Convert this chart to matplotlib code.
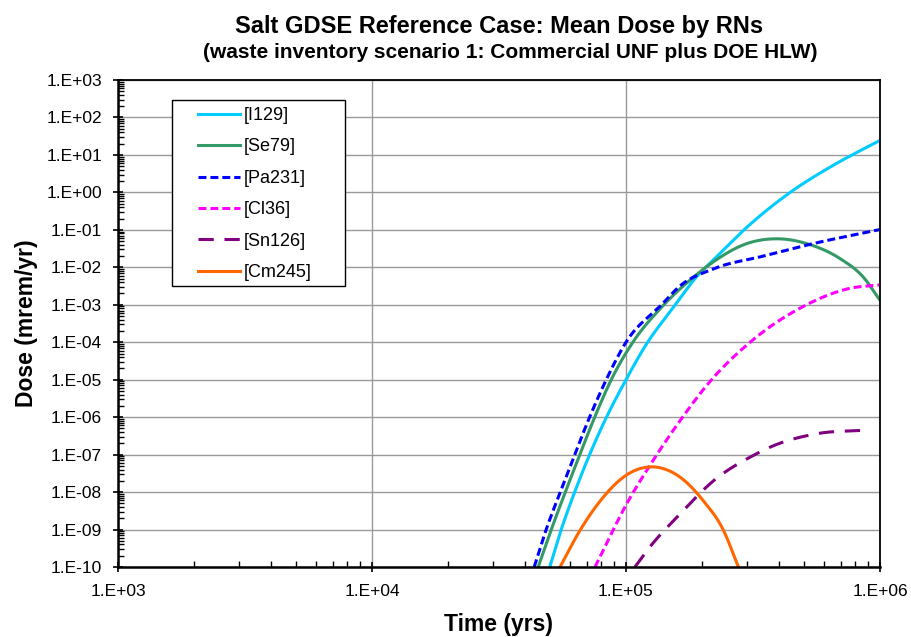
import matplotlib
matplotlib.use("Agg")
import matplotlib.pyplot as plt
import matplotlib.patches as patches
from matplotlib.ticker import FuncFormatter, LogLocator, NullFormatter
import numpy as np

plt.rcParams['font.family'] = ['Liberation Sans', 'DejaVu Sans']

# values (time in yrs, dose in mrem/yr)
i129_t = [5.01e4, 5.56e4, 6.28e4, 7.19e4, 8.24e4, 1.0e5, 1.19e5, 1.535e5, 1.897e5, 2.21e5, 2.99e5, 4.43e5, 6.35e5, 1.0e6]
i129_d = [1e-10, 1e-9, 1e-8, 1e-7, 7.9e-7, 1e-5, 7.9e-5, 8.5e-4, 5.6e-3, 1.58e-2, 0.117, 1.0, 4.7, 24.5]

se79_t = [4.51e4, 5.08e4, 5.77e4, 6.58e4, 7.53e4, 8.75e4, 1.052e5, 1.40e5, 1.84e5, 2.21e5, 2.99e5, 4.04e5, 5.14e5, 6.97e5, 8.59e5, 1.0e6]
se79_d = [1e-10, 1e-9, 1e-8, 1e-7, 1e-6, 1e-5, 8.9e-5, 9.5e-4, 5.4e-3, 1.41e-2, 4.3e-2, 5.75e-2, 4.3e-2, 1.7e-2, 5.5e-3, 1.32e-3]

pa231_t = [4.35e4, 4.85e4, 5.51e4, 6.28e4, 7.19e4, 8.36e4, 1.0e5, 1.38e5, 1.633e5, 2.21e5, 3.48e5, 5.46e5, 1.0e6]
pa231_d = [1e-10, 1e-9, 1e-8, 1e-7, 1e-6, 1e-5, 1e-4, 1e-3, 3.2e-3, 9.1e-3, 2.0e-2, 4.3e-2, 0.102]

cl36_t = [7.55e4, 1.007e5, 1.28e5, 1.633e5, 2.14e5, 3.08e5, 4.84e5, 7.62e5, 1.0e6]
cl36_d = [1e-10, 4.9e-9, 7.1e-8, 8.1e-7, 8.9e-6, 1.0e-4, 8.1e-4, 2.75e-3, 3.4e-3]

sn126_t = [1.084e5, 1.24e5, 1.633e5, 2.21e5, 3.17e5, 3.69e5, 5.62e5, 8.85e5]
sn126_d = [1e-10, 3.4e-10, 2.6e-9, 2.0e-8, 9.5e-8, 1.58e-7, 3.6e-7, 4.5e-7]

cm245_t = [5.5e4, 6.59e4, 8.15e4, 1.0e5, 1.28e5, 1.633e5, 2.01e5, 2.42e5, 2.77e5]
cm245_d = [1e-10, 9.5e-10, 7.4e-9, 2.8e-8, 4.7e-8, 2.5e-8, 6.0e-9, 9.5e-10, 1e-10]

series = [
    ("[I129]", i129_t, i129_d, "#00CCFF", "-"),
    ("[Se79]", se79_t, se79_d, "#339966", "-"),
    ("[Pa231]", pa231_t, pa231_d, "#0000FF", (0, (2.6, 1.3))),
    ("[Cl36]", cl36_t, cl36_d, "#FF00FF", (0, (2.6, 1.3))),
    ("[Sn126]", sn126_t, sn126_d, "#800080", (0, (5.0, 3.5))),
    ("[Cm245]", cm245_t, cm245_d, "#FF6600", "-"),
]


def smooth_curve(t, d, n=300):
    # cubic hermite through the read points, in log-log space
    x, y = np.log10(t), np.log10(d)
    m = np.gradient(y, x)
    xs = np.linspace(x[0], x[-1], n)
    i = np.clip(np.searchsorted(x, xs) - 1, 0, len(x) - 2)
    h = x[i+1] - x[i]
    s = (xs - x[i]) / h
    h00 = 2*s**3 - 3*s**2 + 1
    h10 = s**3 - 2*s**2 + s
    h01 = -2*s**3 + 3*s**2
    h11 = s**3 - s**2
    ys = h00*y[i] + h10*h*m[i] + h01*y[i+1] + h11*h*m[i+1]
    return 10**xs, 10**ys


fig = plt.figure(figsize=(9.12, 6.37), dpi=100)
ax = fig.add_axes([118/912, 1 - 567/637, 762/912, 487/637])

for name, t, d, col, ls in series:
    xs, ys = smooth_curve(t, d)
    ax.plot(xs, ys, color=col, lw=2.2, ls=ls, label=name)

ax.set_xscale("log")
ax.set_yscale("log")
ax.set_xlim(1e3, 1e6)
ax.set_ylim(1e-10, 1e3)

fmt = FuncFormatter(lambda v, p: "1.E%+03d" % int(round(np.log10(v))))
ax.xaxis.set_major_formatter(fmt)
ax.yaxis.set_major_formatter(fmt)
ax.xaxis.set_major_locator(LogLocator(base=10, numticks=20))
ax.yaxis.set_major_locator(LogLocator(base=10, numticks=20))
ax.xaxis.set_minor_locator(LogLocator(base=10, subs=np.arange(2, 10), numticks=20))
ax.yaxis.set_minor_locator(LogLocator(base=10, subs=np.arange(2, 10), numticks=20))
ax.xaxis.set_minor_formatter(NullFormatter())
ax.yaxis.set_minor_formatter(NullFormatter())
ax.tick_params(which="major", direction="inout", length=7, width=1.2, labelsize=12.5)
ax.tick_params(axis="y", which="major", pad=8)
ax.tick_params(axis="x", which="major", pad=9)
ax.tick_params(which="minor", direction="in", length=4, width=1.0)
ax.tick_params(top=False, right=False, which="both")

ax.grid(True, which="major", color="#999999", lw=1.0)
for s in ax.spines.values():
    s.set_linewidth(1.3)
ax.spines["bottom"].set_linewidth(1.8)
ax.spines["left"].set_linewidth(1.8)

ax.set_xlabel("Time (yrs)", fontsize=16.5, fontweight="bold", labelpad=10)
ax.set_ylabel("Dose (mrem/yr)", fontsize=16.5, fontweight="bold", labelpad=6)

fig.text(499/912, 1 - 27/637, "Salt GDSE Reference Case: Mean Dose by RNs",
         ha="center", va="center", fontsize=17, fontweight="bold")
fig.text(510/912, 1 - 53/637, "(waste inventory scenario 1: Commercial UNF plus DOE HLW)",
         ha="center", va="center", fontsize=15, fontweight="bold")

# legend box drawn as its own rectangle, entries placed inside it
box = patches.Rectangle(((172-118)/762, (567-286)/487), 173/762, 186/487,
                        transform=ax.transAxes, facecolor="white", edgecolor="black",
                        lw=1.0, zorder=4.5)
ax.add_patch(box)
leg = ax.legend(loc="upper left", bbox_to_anchor=((198-118)/762, (567-107)/487),
                fontsize=13, handlelength=2.35, handletextpad=0.2, labelspacing=0.8,
                borderpad=0, frameon=False, borderaxespad=0)

fig.savefig("out.png", dpi=100)
